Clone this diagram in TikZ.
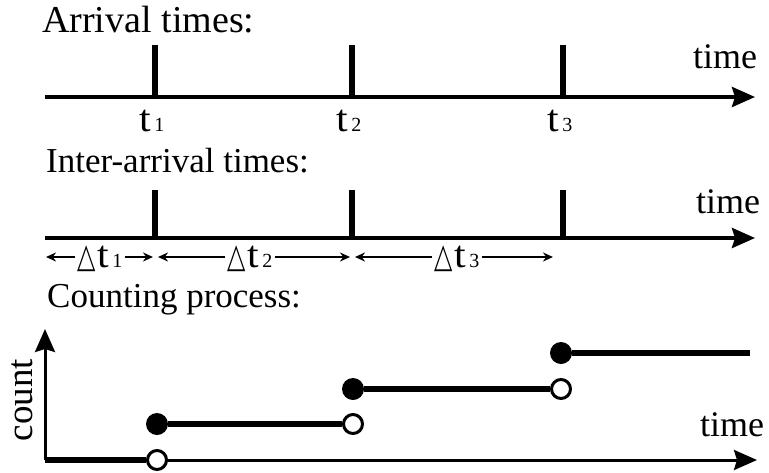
\documentclass[tikz,border=0pt]{standalone}
\usepackage{fontspec}
\usepackage{graphicx}
\setmainfont{Liberation Serif}
\newfontfamily\symfont{DejaVu Sans}
\usetikzlibrary{arrows.meta}

% time label: a large t with its index set small on the baseline
\newcommand{\tlab}[1]{{\fontsize{38}{38}\selectfont\scalebox{1.1}[1]{t}}{\fontsize{20}{20}\selectfont\,#1}}
% interval label: narrow triangle followed by the time label
\newcommand{\dtlab}[1]{{\symfont\fontsize{34}{34}\selectfont\scalebox{0.7}[1.0]{△}}\,\tlab{#1}}

\begin{document}
\begin{tikzpicture}[x=1pt,y=-1pt,
  axis/.style={line width=3.8pt,-{Stealth[length=23pt,width=20pt,inset=3pt]}},
  thinaxis/.style={line width=3pt,-{Stealth[length=23pt,width=20pt,inset=3pt]}},
  tick/.style={line width=6.5pt},
  heading/.style={anchor=base west,inner sep=0pt,font=\fontsize{35}{35}\selectfont},
  timelab/.style={anchor=base west,inner sep=0pt,font=\fontsize{36}{36}\selectfont},
  tlabel/.style={anchor=base,inner sep=0pt},
  dtnode/.style={anchor=base,inner sep=2pt},
  dtarrow/.style={line width=1.7pt,-{Stealth[length=10pt,width=9pt]}},
  steplevel/.style={line width=6pt},
  filled/.style={circle,fill=black,minimum size=22pt,inner sep=0pt},
  hollow/.style={circle,draw=black,fill=white,line width=3pt,minimum size=19pt,inner sep=0pt}]
\useasboundingbox (0,0) rectangle (769,472);

% ---------- arrival times ----------
\node[heading,font=\fontsize{38}{38}\selectfont] (h1) at (42,32) {Arrival times:};
\coordinate (a0) at (45,97);
\coordinate (a1) at (755,97);
\draw[axis] (a0) -- (a1);
\node[timelab] (time1) at (693,68) {time};
\foreach \x/\i in {155/1,352/2,563/3}{
  \coordinate (ta\i) at (\x,45);
  \coordinate (tb\i) at (\x,97);
  \draw[tick] (ta\i) -- (tb\i);
  \node[tlabel] (lab\i) at (\x-3,131) {\tlab{\i}};
}

% ---------- inter-arrival times ----------
\node[heading] (h2) at (46,172) {Inter-arrival times:};
\coordinate (b0) at (45,238);
\coordinate (b1) at (755,238);
\draw[axis] (b0) -- (b1);
\node[timelab] (time2) at (696,213) {time};
\foreach \x/\i in {155/1,352/2,563/3}{
  \coordinate (tc\i) at (\x,190);
  \coordinate (td\i) at (\x,238);
  \draw[tick] (tc\i) -- (td\i);
}
\node[dtnode] (dta) at (100,267) {\dtlab{1}};
\node[dtnode] (dtb) at (250,267) {\dtlab{2}};
\node[dtnode] (dtc) at (457,267) {\dtlab{3}};
\coordinate (p0) at (46,257);
\coordinate (p1l) at (153,257);
\coordinate (p1r) at (158,257);
\coordinate (p2l) at (350,257);
\coordinate (p2r) at (355,257);
\coordinate (p3l) at (553,257);
\draw[dtarrow] (dta.west |- p0) -- (p0);
\draw[dtarrow] (dta.east |- p0) -- (p1l);
\draw[dtarrow] (dtb.west |- p0) -- (p1r);
\draw[dtarrow] (dtb.east |- p0) -- (p2l);
\draw[dtarrow] (dtc.west |- p0) -- (p2r);
\draw[dtarrow] (dtc.east |- p0) -- (p3l);

% ---------- counting process ----------
\node[heading] (h3) at (47,307) {Counting process:};
\coordinate (o) at (45,460);
\coordinate (ytop) at (45,329);
\coordinate (xend) at (757,460);
\draw[thinaxis] (o) -- (xend);
\draw[thinaxis] (o) -- (ytop);
\node[timelab] (time3) at (700,436) {time};
\node[rotate=90,inner sep=0pt,font=\fontsize{37}{37}\selectfont] (cnt) at (22,400) {count};

% step function
\node[hollow] (c0) at (157,460) {};
\draw[steplevel] (o) -- (c0.west);
\node[filled] (f1) at (157,424) {};
\node[hollow] (c1) at (353,424) {};
\draw[steplevel] (f1) -- (c1.west);
\node[filled] (f2) at (353,389) {};
\node[hollow] (c2) at (561,389) {};
\draw[steplevel] (f2) -- (c2.west);
\node[filled] (f3) at (561,353) {};
\coordinate (e3) at (750,353);
\draw[steplevel] (f3) -- (e3);
\end{tikzpicture}
\end{document}
